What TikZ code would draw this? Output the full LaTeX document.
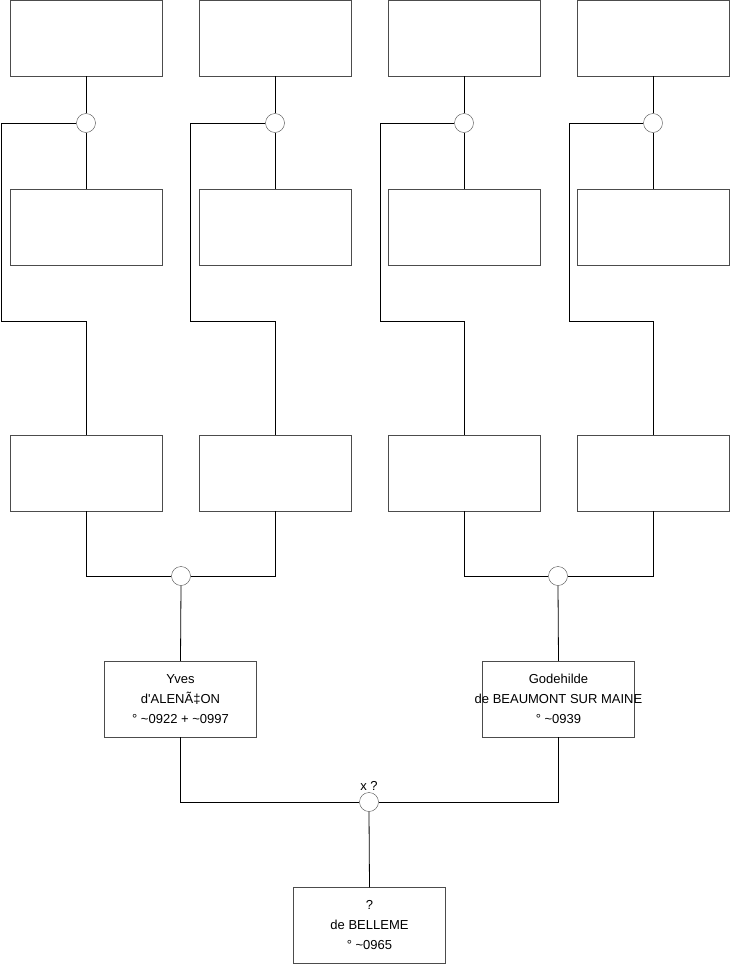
\documentclass[tikz,border=0pt]{standalone}
\usepackage{fontspec}
\setmainfont{Liberation Sans}
\usetikzlibrary{positioning}

\begin{document}
\begin{tikzpicture}[
  x=1pt, y=-1pt,
  font=\fontsize{13}{20}\selectfont,
  person/.style={draw=black!70, fill=white, minimum width=152pt, minimum height=76pt, align=center, inner sep=2pt},
  union/.style={circle, draw=black!70, fill=white, minimum size=19pt, inner sep=0pt},
  link/.style={draw=black, line width=0.8pt}
]
\useasboundingbox (0,0) rectangle (740,975);

% ancestors, four columns
\foreach \i/\x/\l in {1/86/1, 2/275/190, 3/464/380, 4/653/569}{
  \node[person] (top\i) at (\x,38) {};
  \node[person] (mid\i) at (\x,227) {};
  \node[person] (par\i) at (\x,473) {};
  \coordinate (bend\i) at (\l,321);
  \node[union] (u\i) at (\x,123) {};
  \draw[link] (top\i.south) -- (u\i.north);
  \draw[link] (u\i.south) -- (mid\i.north);
  \draw[link] (u\i.west) -| (bend\i) -| (par\i.north);
}

% parents
\node[person] (yves) at (180.5,699) {Yves\\d\textquotesingle ALENÃ‡ON\\° \textasciitilde0922 + \textasciitilde0997};
\node[person] (gode) at (558.5,699) {Godehilde\\\makebox[0pt]{de BEAUMONT SUR MAINE}\\° \textasciitilde0939};
\node[union] (ua) at (181,576) {};
\node[union] (ub) at (558,576) {};
\draw[link] (par1.south) |- (ua.west);
\draw[link] (par2.south) |- (ua.east);
\draw[link] (par3.south) |- (ub.west);
\draw[link] (par4.south) |- (ub.east);
\draw[link] (ua.south) -- (yves.north);
\draw[link] (ub.south) -- (gode.north);

% child
\node[union, label={[inner sep=2pt]above:x ?}] (ux) at (369,802) {};
\node[person] (child) at (369.5,925.5) {?\\de BELLEME\\° \textasciitilde0965};
\draw[link] (yves.south) |- (ux.west);
\draw[link] (gode.south) |- (ux.east);
\draw[link] (ux.south) -- (child.north);
\end{tikzpicture}
\end{document}
